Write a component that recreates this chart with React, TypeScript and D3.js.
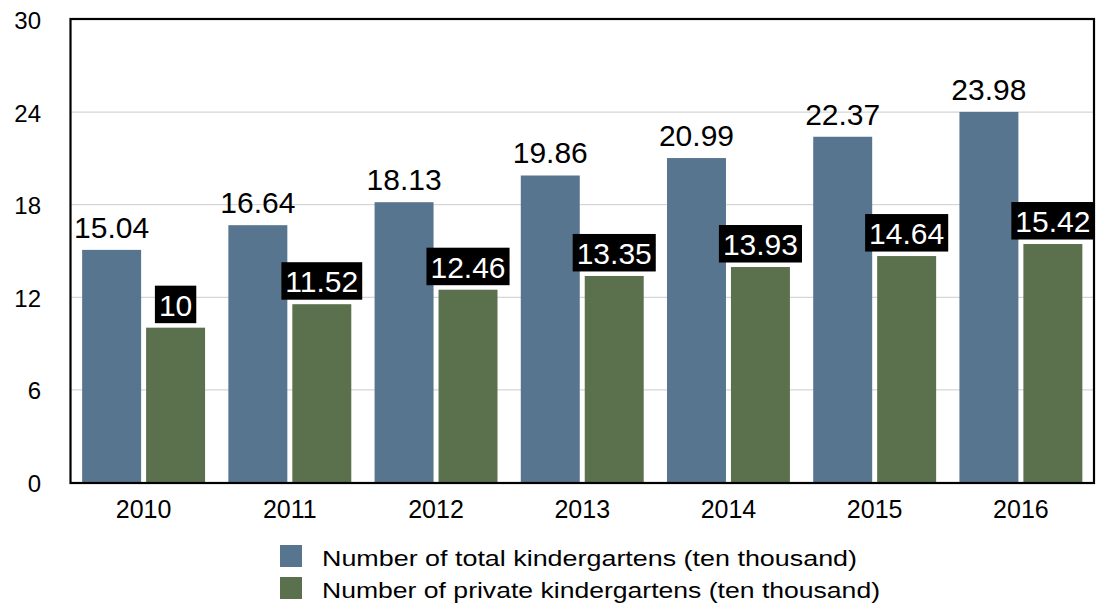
import React, { useEffect, useRef } from "react";
import * as d3 from "d3";

const years = ["2010", "2011", "2012", "2013", "2014", "2015", "2016"];
const totalValues = [15.04, 16.64, 18.13, 19.86, 20.99, 22.37, 23.98];
const privateValues = [10, 11.52, 12.46, 13.35, 13.93, 14.64, 15.42];
const yTicks = [0, 6, 12, 18, 24, 30];
const seriesNames = [
  "Number of total kindergartens (ten thousand)",
  "Number of private kindergartens (ten thousand)",
];
const seriesKeys = ["total", "private"];
const colors = ["#58758F", "#5B714E"];

const W = 1097;
const H = 606;
const FONT = "'Liberation Sans', Arial, Helvetica, sans-serif";

export default function App() {
  const ref = useRef<SVGSVGElement | null>(null);

  useEffect(() => {
    const svg = d3.select(ref.current);
    svg.selectAll("*").remove();

    const left = 70.5, right = 1094, top = 19, bottom = 482;

    const x0 = d3.scaleBand<string>().domain(years).range([left, right]).padding(0);
    const x1 = d3
      .scaleBand<string>()
      .domain(seriesKeys)
      .range([0, x0.bandwidth()])
      .paddingInner(0.078)
      .paddingOuter(0.182);
    const y = d3.scaleLinear().domain([0, 30]).range([bottom, top]);

    // gridlines
    svg
      .append("g")
      .selectAll("line")
      .data(yTicks.filter((t) => t > 0 && t < 30))
      .join("line")
      .attr("x1", left)
      .attr("x2", right)
      .attr("y1", (d) => y(d) + 0.5)
      .attr("y2", (d) => y(d) + 0.5)
      .attr("stroke", "#cccccc")
      .attr("stroke-width", 1);

    // y tick labels
    svg
      .append("g")
      .selectAll("text")
      .data(yTicks)
      .join("text")
      .attr("x", 41)
      .attr("y", (d) => y(d) + 10)
      .attr("text-anchor", "end")
      .attr("font-family", FONT)
      .attr("font-size", 24)
      .attr("fill", "#000")
      .text((d) => String(d));

    const rows = years.map((yr, i) => ({
      year: yr,
      vals: [totalValues[i], privateValues[i]],
    }));

    // bars
    const groups = svg
      .append("g")
      .selectAll("g")
      .data(rows)
      .join("g")
      .attr("transform", (d) => `translate(${x0(d.year)},0)`);

    groups
      .selectAll("rect")
      .data((d) => d.vals.map((v, k) => ({ v, k })))
      .join("rect")
      .attr("x", (d) => x1(seriesKeys[d.k])!)
      .attr("width", x1.bandwidth())
      .attr("y", (d) => y(d.v))
      .attr("height", (d) => bottom - y(d.v))
      .attr("fill", (d) => colors[d.k]);

    // frame
    svg
      .append("rect")
      .attr("x", left)
      .attr("y", top)
      .attr("width", right - left)
      .attr("height", bottom - top + 1)
      .attr("fill", "none")
      .attr("stroke", "#000")
      .attr("stroke-width", 2.2);

    // value labels
    rows.forEach((r) => {
      r.vals.forEach((v, k) => {
        const cx = x0(r.year)! + x1(seriesKeys[k])! + x1.bandwidth() / 2;
        const base = y(v) - 12;
        const label = String(v);
        if (k === 1) {
          const g = svg.append("g");
          const bg = g.append("rect").attr("fill", "#000");
          const t = g
            .append("text")
            .attr("x", cx)
            .attr("y", base)
            .attr("text-anchor", "middle")
            .attr("font-family", FONT)
            .attr("font-size", 30)
            .attr("fill", "#fff")
            .text(label);
          const w = (t.node() as SVGTextElement).getComputedTextLength();
          bg.attr("x", cx - w / 2 - 4)
            .attr("y", base - 30)
            .attr("width", w + 8)
            .attr("height", 37.5);
        } else {
          svg
            .append("text")
            .attr("x", cx)
            .attr("y", base)
            .attr("text-anchor", "middle")
            .attr("font-family", FONT)
            .attr("font-size", 30)
            .attr("fill", "#000")
            .text(label);
        }
      });
    });

    // x labels
    svg
      .append("g")
      .selectAll("text")
      .data(years)
      .join("text")
      .attr("x", (d) => x0(d)! + x0.bandwidth() / 2)
      .attr("y", 518)
      .attr("text-anchor", "middle")
      .attr("font-family", FONT)
      .attr("font-size", 25)
      .attr("fill", "#000")
      .text((d) => d);

    // legend
    const lg = svg.append("g");
    const legendWidths = [535, 558];
    seriesNames.forEach((name, k) => {
      const yy = 545 + k * 32;
      lg.append("rect")
        .attr("x", 280)
        .attr("y", yy)
        .attr("width", 22)
        .attr("height", 22)
        .attr("fill", colors[k]);
      lg.append("text")
        .attr("x", 322)
        .attr("y", yy + 20.5)
        .attr("font-family", FONT)
        .attr("font-size", 22)
        .attr("textLength", legendWidths[k])
        .attr("lengthAdjust", "spacingAndGlyphs")
        .attr("fill", "#000")
        .text(name);
    });
  }, []);

  return (
    <svg
      ref={ref}
      width={W}
      height={H}
      style={{ position: "absolute", left: 0, top: 0, background: "#fff" }}
    />
  );
}
